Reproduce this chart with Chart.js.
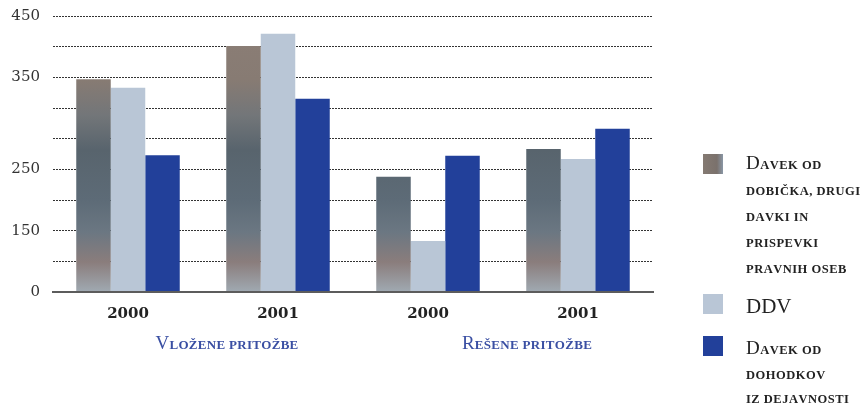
<!DOCTYPE html>
<html><head><meta charset="utf-8">
<script src="https://cdn.jsdelivr.net/npm/chart.js@4"></script>
<style>
html,body{margin:0;padding:0;background:#fff;}
#c{display:block;}
</style></head><body>
<canvas id="c" width="867" height="407"></canvas>
<script>
const categories = ['2000', '2001', '2000', '2001'];
const groupLabels = ['Vložene pritožbe', 'Rešene pritožbe'];
const seriesNames = ['Davek od dobička, drugi davki in prispevki pravnih oseb', 'DDV', 'Davek od dohodkov iz dejavnosti'];
const legendLines = [
  ['Davek od', 'dobička, drugi', 'davki in', 'prispevki', 'pravnih oseb'],
  ['DDV'],
  ['Davek od', 'dohodkov', 'iz dejavnosti']
];
const davekDobicka = [347, 401, 188, 233];
const ddv = [333, 421, 83, 217];
const davekDohodkov = [223, 315, 222, 266];
const yTickValues = [0, 100, 200, 350, 450];
const yTickLabels = ['0', '150', '250', '350', '450'];

const LIGHT = '#b9c6d6';
const DARK = '#22409a';
const SWATCH1 = '#7b726d';

function textureFill(ctx) {
  const chart = ctx.chart;
  const area = chart.chartArea;
  if (!area) return SWATCH1;
  const c = chart.ctx;
  const h = area.bottom - area.top;
  const g = c.createLinearGradient(0, area.top, 0, area.bottom);
  const stop = (y, col) => g.addColorStop(Math.min(1, Math.max(0, (y - area.top) / h)), col);
  stop(16, '#8c7e76');
  stop(80, '#877b73');
  stop(115, '#737679');
  stop(150, '#58646d');
  stop(200, '#5d6b77');
  stop(232, '#6b7782');
  stop(262, '#8a7d7c');
  stop(292, '#a0aab2');
  return g;
}

function isCap(ch) { return ch === ch.toUpperCase() && ch !== ch.toLowerCase(); }

// draw text in small caps: capitals at big font, others uppercase in small bold font
function drawSmallCaps(c, text, x, y, big, small, spacing, align) {
  const parts = [];
  for (const ch of text) {
    if (isCap(ch)) parts.push({t: ch, f: big});
    else parts.push({t: ch.toUpperCase(), f: small});
  }
  let w = 0;
  parts.forEach(p => { c.font = p.f; p.w = c.measureText(p.t).width + spacing; w += p.w; });
  let px = align === 'center' ? x - w / 2 : x;
  parts.forEach(p => { c.font = p.f; c.fillText(p.t, px, y); px += p.w; });
}

const textPlugin = {
  id: 'texts',
  afterDraw(chart) {
    const x = chart.scales.x;
    const c = chart.ctx;
    c.save();
    c.textBaseline = 'alphabetic';
    c.textAlign = 'left';
    // group labels under the axis
    c.fillStyle = '#3a4fa3';
    groupLabels.forEach((lab, i) => {
      const cx = (x.getPixelForValue(i * 2) + x.getPixelForValue(i * 2 + 1)) / 2 + 24;
      drawSmallCaps(c, lab, cx, 349, '19px "Liberation Serif", serif', 'bold 13px "Liberation Serif", serif', 0.3, 'center');
    });
    // legend
    const swTops = [154, 294, 336];
    const firstBase = [169, 313, 354];
    const steps = [26, 26, 24.5];
    const swCols = [null, LIGHT, DARK];
    legendLines.forEach((lines, i) => {
      if (i === 0) {
        const g = c.createLinearGradient(703, 0, 723, 0);
        g.addColorStop(0, '#857a72'); g.addColorStop(0.7, '#7a716c'); g.addColorStop(1, '#8a97a6');
        c.fillStyle = g;
      } else c.fillStyle = swCols[i];
      c.fillRect(703, swTops[i], 20, 20);
      c.fillStyle = '#222';
      lines.forEach((ln, j) => {
        const y = firstBase[i] + j * steps[i];
        if (i === 1) { c.font = '21px "Liberation Serif", serif'; c.fillText(ln, 746, y); }
        else drawSmallCaps(c, ln, 746, y, '19px "Liberation Serif", serif', 'bold 12.5px "Liberation Serif", serif', 0.5, 'left');
      });
    });
    c.restore();
  }
};

new Chart(document.getElementById('c'), {
  type: 'bar',
  data: {
    labels: categories,
    datasets: [
      {label: seriesNames[0], data: davekDobicka, backgroundColor: textureFill},
      {label: seriesNames[1], data: ddv, backgroundColor: LIGHT},
      {label: seriesNames[2], data: davekDohodkov, backgroundColor: DARK}
    ]
  },
  options: {
    responsive: false,
    animation: false,
    datasets: {bar: {barPercentage: 1, categoryPercentage: 0.69, borderWidth: 0}},
    layout: {padding: {left: 0, right: 214, top: 16, bottom: 0}},
    plugins: {legend: {display: false}, tooltip: {enabled: false}},
    scales: {
      x: {
        grid: {display: false},
        border: {display: true, color: '#5c5c5c', width: 2, z: 1},
        ticks: {color: '#222', padding: 5, font: {family: '"DejaVu Serif", serif', size: 15, weight: 'bold'}},
        afterFit: s => { s.height = 115; s.paddingLeft = 0; s.paddingRight = 0; }
      },
      y: {
        min: 0, max: 450,
        grid: {color: '#333', lineWidth: 1, drawTicks: false},
        border: {display: false, dash: [2, 1]},
        ticks: {
          stepSize: 50, padding: 13, color: '#333',
          font: {family: '"DejaVu Serif", serif', size: 15},
          callback: v => { const i = yTickValues.indexOf(v); return i >= 0 ? yTickLabels[i] : ''; }
        },
        afterFit: s => { s.width = 53; s.paddingTop = 0; s.paddingBottom = 0; }
      }
    }
  },
  plugins: [textPlugin]
});
</script>
</body></html>
